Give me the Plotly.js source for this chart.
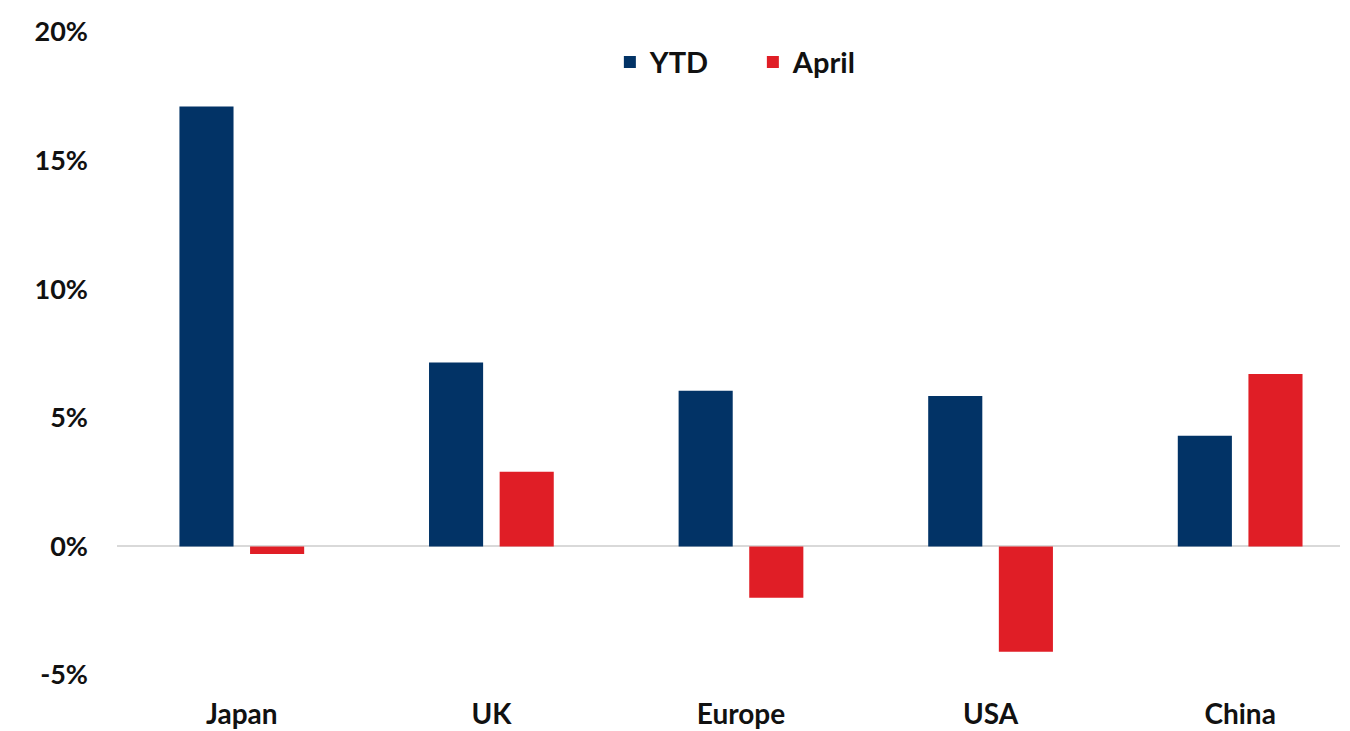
<!DOCTYPE html>
<html><head><meta charset="utf-8">
<script src="https://cdn.plot.ly/plotly-3.0.1.min.js"></script>
<style>html,body{margin:0;padding:0;background:#fff}#chart{width:1350px;height:731px}</style>
</head><body><div id="chart"></div>
<script>
var categories = ["Japan", "UK", "Europe", "USA", "China"];
var ytd = [17.1, 7.15, 6.05, 5.85, 4.3];
var april = [-0.3, 2.9, -2.0, -4.1, 6.7];
var yTickVals = [-5, 0, 5, 10, 15, 20];
var yTickText = ["-5%", "0%", "5%", "10%", "15%", "20%"];

var fam = "Lato, 'Open Sans', sans-serif";
var data = [
  {type: "bar", name: "YTD", x: categories, y: ytd, marker: {color: "#023366"}},
  {type: "bar", name: "April", x: categories, y: april, marker: {color: "#e01e26"}}
];
var layout = {
  width: 1350, height: 731,
  margin: {l: 117, r: 10, t: 32, b: 56},
  paper_bgcolor: "#fff", plot_bgcolor: "#fff",
  barmode: "group", bargap: 0.434, bargroupgap: 0.234,
  font: {family: fam, size: 27, color: "#111"},
  showlegend: true,
  legend: {orientation: "h", x: 0.403, xanchor: "left", y: 0.953, yanchor: "middle",
           font: {family: fam, size: 29, color: "#111", weight: "bold"},
           itemwidth: 30, traceorder: "normal", entrywidth: 98},
  xaxis: {range: [-0.5, 4.4], showgrid: false, showline: false, zeroline: false,
          ticks: "", ticklabelstandoff: 20,
          tickfont: {family: fam, size: 28, color: "#111", weight: "bold"}, fixedrange: true},
  yaxis: {range: [-5, 20], tickvals: yTickVals, ticktext: yTickText, showgrid: false, showline: false,
          zeroline: true, zerolinecolor: "#d9d9d9", zerolinewidth: 2,
          ticks: "", ticklabelstandoff: 28,
          tickfont: {family: fam, size: 27, color: "#111", weight: "bold"}, fixedrange: true}
};
Plotly.newPlot("chart", data, layout, {displayModeBar: false, staticPlot: true});
</script></body></html>
